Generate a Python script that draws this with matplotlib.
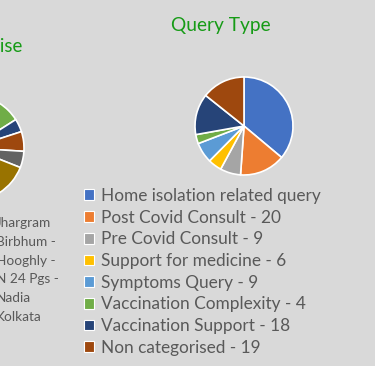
import matplotlib.pyplot as plt
from matplotlib.patches import Patch

# donnees
query_labels = ["Home isolation related query", "Post Covid Consult - 20", "Pre Covid Consult - 9",
                "Support for medicine - 6", "Symptoms Query - 9", "Vaccination Complexity - 4",
                "Vaccination Support - 18", "Non categorised - 19"]
query_values = [48, 20, 9, 6, 9, 4, 18, 19]

district_labels = ["Jhargram", "Birbhum -", "Hooghly -", "N 24 Pgs -", "Nadia", "Kolkata"]
district_values = [2, 2, 2, 1, 2, 7, 4, 6, 5, 10, 14, 12, 11, 9, 8, 5]

office = ["#4472C4", "#ED7D31", "#A5A5A5", "#FFC000", "#5B9BD5", "#70AD47", "#264478", "#9E480E",
          "#636363", "#997300", "#255E91", "#43682B", "#698ED0", "#F1975A", "#B7B7B7", "#FFCD33"]

plt.rcParams['font.family'] = ['Lato', 'DejaVu Sans']
bg = "#D9D9D9"
green = "#169B16"
grey_txt = "#595959"

W, H = 375, 366
fig = plt.figure(figsize=(W / 100, H / 100), dpi=100, facecolor=bg)

def px_axes(cx, cy, r):
    return fig.add_axes([(cx - r) / W, (H - cy - r) / H, 2 * r / W, 2 * r / H])

# graphique de gauche (coupe par le bord)
ax2 = px_axes(-29, 148, 53)
ax2.pie(district_values, colors=office[:len(district_values)], startangle=90, counterclock=False,
        wedgeprops=dict(edgecolor="white", linewidth=1.2))
ax2.set_xlim(-1, 1)
ax2.set_ylim(-1, 1)
ax2.axis("off")
fig.text(22 / W, 1 - 47 / H, "District wise", ha="right", va="center", fontsize=13.5, color=green)
for i, lab in enumerate(district_labels):
    fig.text(-4 / W, 1 - (223 + i * 18.8) / H, lab, ha="left", va="center", fontsize=9.8, color=grey_txt)

# graphique principal
ax = px_axes(244, 126, 49)
ax.pie(query_values, colors=office[:len(query_values)], startangle=90, counterclock=False,
       wedgeprops=dict(edgecolor="white", linewidth=1.2))
ax.set_xlim(-1, 1)
ax.set_ylim(-1, 1)
ax.axis("off")
fig.text(220.5 / W, 1 - 25 / H, "Query Type", ha="center", va="center", fontsize=13.8, color=green)

handles = [Patch(facecolor=c, edgecolor="white", linewidth=0.8) for c in office[:len(query_labels)]]
fig.legend(handles, query_labels, loc="upper left", bbox_to_anchor=(84 / W, 1 - 188 / H),
           frameon=False, fontsize=12.4, labelcolor=grey_txt, handlelength=0.6, handleheight=0.6,
           handletextpad=0.4, labelspacing=0.33, borderpad=0, borderaxespad=0)

plt.savefig("out.png", dpi=100, facecolor=bg)
